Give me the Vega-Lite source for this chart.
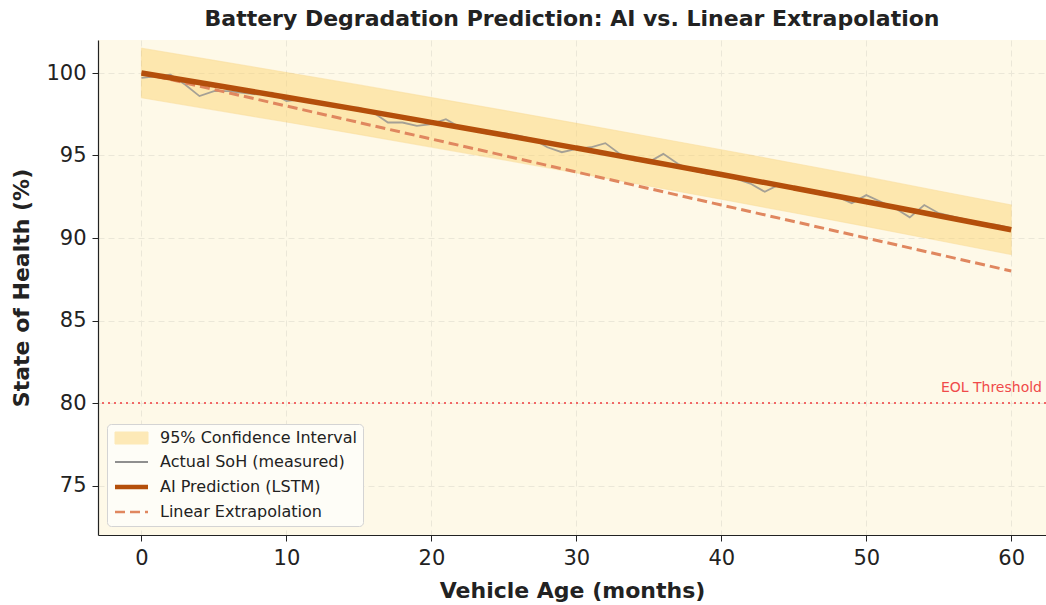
{
  "$schema": "https://vega.github.io/schema/vega-lite/v6.json",
  "autosize": {"type": "none"},
  "width": 948,
  "height": 495,
  "padding": {"left": 98, "top": 40, "right": 0, "bottom": 70},
  "background": "#ffffff",
  "title": {"text": "Battery Degradation Prediction: AI vs. Linear Extrapolation", "font": "DejaVu Sans", "fontSize": 22, "fontWeight": "bold", "color": "#222222", "offset": 9, "anchor": "middle"},
  "config": {
    "font": "DejaVu Sans",
    "view": {"fill": "#fef9e8", "stroke": null},
    "axis": {"labelFont": "DejaVu Sans", "labelFontSize": 21, "labelColor": "#222222", "titleFont": "DejaVu Sans", "titleFontSize": 22, "titleFontWeight": "bold", "titleColor": "#222222", "domainColor": "#222222", "domainWidth": 1.2, "tickColor": "#222222", "tickSize": 6, "gridColor": "#ebe7d8", "gridDash": [6, 4], "gridWidth": 1},
    "legend": {"symbolType": "M-1,-1H4.5V1H-1Z"}
  },
  "datasets": {
    "actual": [
      {"month": 0, "soh": 99.7}, {"month": 1, "soh": 99.8}, {"month": 2, "soh": 99.9}, {"month": 3, "soh": 99.3},
      {"month": 4, "soh": 98.6}, {"month": 5, "soh": 98.9}, {"month": 6, "soh": 98.9}, {"month": 7, "soh": 98.8},
      {"month": 8, "soh": 98.7}, {"month": 9, "soh": 98.8}, {"month": 10, "soh": 98.3}, {"month": 11, "soh": 98.4},
      {"month": 12, "soh": 98.2}, {"month": 13, "soh": 98.1}, {"month": 14, "soh": 97.9}, {"month": 15, "soh": 97.9},
      {"month": 16, "soh": 97.6}, {"month": 17, "soh": 97.0}, {"month": 18, "soh": 97.0}, {"month": 19, "soh": 96.8},
      {"month": 20, "soh": 96.9}, {"month": 21, "soh": 97.2}, {"month": 22, "soh": 96.7}, {"month": 23, "soh": 96.5},
      {"month": 24, "soh": 96.3}, {"month": 25, "soh": 96.35}, {"month": 26, "soh": 96.2}, {"month": 27, "soh": 96.0},
      {"month": 28, "soh": 95.5}, {"month": 29, "soh": 95.2}, {"month": 30, "soh": 95.4}, {"month": 31, "soh": 95.5},
      {"month": 32, "soh": 95.75}, {"month": 33, "soh": 95.1}, {"month": 34, "soh": 94.7}, {"month": 35, "soh": 94.6},
      {"month": 36, "soh": 95.1}, {"month": 37, "soh": 94.5}, {"month": 38, "soh": 94.1}, {"month": 39, "soh": 93.9},
      {"month": 40, "soh": 93.8}, {"month": 41, "soh": 93.6}, {"month": 42, "soh": 93.3}, {"month": 43, "soh": 92.8},
      {"month": 44, "soh": 93.25}, {"month": 45, "soh": 93.0}, {"month": 46, "soh": 92.8}, {"month": 47, "soh": 92.6},
      {"month": 48, "soh": 92.5}, {"month": 49, "soh": 92.1}, {"month": 50, "soh": 92.6}, {"month": 51, "soh": 92.2},
      {"month": 52, "soh": 91.8}, {"month": 53, "soh": 91.25}, {"month": 54, "soh": 92.0}, {"month": 55, "soh": 91.5},
      {"month": 56, "soh": 91.3}, {"month": 57, "soh": 91.1}, {"month": 58, "soh": 90.9}, {"month": 59, "soh": 90.8},
      {"month": 60, "soh": 90.6}
    ],
    "pred": [
      {"month": 0, "ai": 100.0, "lo": 98.5, "hi": 101.5, "lin": 100.0},
      {"month": 5, "ai": 99.27, "lo": 97.77, "hi": 100.77, "lin": 99.0},
      {"month": 10, "ai": 98.53, "lo": 97.03, "hi": 100.03, "lin": 98.0},
      {"month": 15, "ai": 97.78, "lo": 96.28, "hi": 99.28, "lin": 97.0},
      {"month": 20, "ai": 97.01, "lo": 95.51, "hi": 98.51, "lin": 96.0},
      {"month": 25, "ai": 96.24, "lo": 94.74, "hi": 97.74, "lin": 95.0},
      {"month": 30, "ai": 95.45, "lo": 93.95, "hi": 96.95, "lin": 94.0},
      {"month": 35, "ai": 94.65, "lo": 93.15, "hi": 96.15, "lin": 93.0},
      {"month": 40, "ai": 93.85, "lo": 92.35, "hi": 95.35, "lin": 92.0},
      {"month": 45, "ai": 93.03, "lo": 91.53, "hi": 94.53, "lin": 91.0},
      {"month": 50, "ai": 92.2, "lo": 90.7, "hi": 93.7, "lin": 90.0},
      {"month": 55, "ai": 91.35, "lo": 89.85, "hi": 92.85, "lin": 89.0},
      {"month": 60, "ai": 90.5, "lo": 89.0, "hi": 92.0, "lin": 88.0}
    ],
    "eol": [{"threshold": 80, "label": "EOL Threshold"}]
  },
  "encoding": {
    "color": {"type": "nominal",
      "scale": {"domain": ["95% Confidence Interval", "Actual SoH (measured)", "AI Prediction (LSTM)", "Linear Extrapolation"],
                "range": ["#fcd36a", "#8f8f8f", "#b44f0b", "#e0875f"]},
      "legend": {
        "title": null, "orient": "bottom-left", "offset": 9,
        "labelFont": "DejaVu Sans", "labelFontSize": 16, "labelColor": "#222222", "labelLimit": 400,
        "symbolSize": 144, "labelOffset": 31, "rowPadding": 8,
        "padding": 6, "fillColor": "#fefdf7", "strokeColor": "#d4d4d4", "cornerRadius": 4,
        "encode": {
          "symbols": {"update": {
            "shape": {"signal": "datum.value === '95% Confidence Interval' ? 'M-1,-1H4.5V1H-1Z' : 'M-1,0H4.5'"},
            "fill": {"signal": "datum.value === '95% Confidence Interval' ? '#fde7ab' : 'transparent'"},
            "fillOpacity": {"value": 1},
            "opacity": {"signal": "datum.value === '95% Confidence Interval' ? 0.45 : 1"},
            "stroke": {"signal": "datum.value === '95% Confidence Interval' ? '#f9d98a' : datum.value === 'Actual SoH (measured)' ? '#9a9a9a' : datum.value === 'AI Prediction (LSTM)' ? '#b44f0b' : '#e0875f'"},
            "strokeWidth": {"signal": "datum.value === '95% Confidence Interval' ? 1 : datum.value === 'Actual SoH (measured)' ? 1.8 : datum.value === 'AI Prediction (LSTM)' ? 4.5 : 2.5"},
            "strokeDash": {"signal": "datum.value === 'Linear Extrapolation' ? [10, 5] : [1, 0]"}
          }}
        }
      }
    }
  },
  "layer": [
    {
      "data": {"name": "pred"},
      "mark": {"type": "area", "opacity": 0.45, "stroke": "#f6c04a", "strokeWidth": 1.2, "strokeOpacity": 0.6},
      "encoding": {
        "x": {"field": "month", "type": "quantitative", "scale": {"domain": [-3, 62.4], "nice": false, "zero": false},
          "axis": {"title": "Vehicle Age (months)", "values": [0, 10, 20, 30, 40, 50, 60], "grid": true, "labelPadding": 6, "titlePadding": 12}},
        "y": {"field": "lo", "type": "quantitative", "scale": {"domain": [72, 102], "nice": false, "zero": false},
          "axis": {"title": "State of Health (%)", "values": [75, 80, 85, 90, 95, 100], "grid": true, "labelPadding": 6, "titlePadding": 12}},
        "y2": {"field": "hi"},
        "color": {"datum": "95% Confidence Interval"}
      }
    },
    {
      "data": {"name": "actual"},
      "mark": {"type": "line", "strokeWidth": 1.8, "opacity": 0.8},
      "encoding": {
        "x": {"field": "month", "type": "quantitative"},
        "y": {"field": "soh", "type": "quantitative"},
        "color": {"datum": "Actual SoH (measured)"}
      }
    },
    {
      "data": {"name": "pred"},
      "mark": {"type": "line", "strokeWidth": 3, "strokeDash": [10, 5]},
      "encoding": {
        "x": {"field": "month", "type": "quantitative"},
        "y": {"field": "lin", "type": "quantitative"},
        "color": {"datum": "Linear Extrapolation"}
      }
    },
    {
      "data": {"name": "pred"},
      "mark": {"type": "line", "strokeWidth": 5.5, "interpolate": "monotone"},
      "encoding": {
        "x": {"field": "month", "type": "quantitative"},
        "y": {"field": "ai", "type": "quantitative"},
        "color": {"datum": "AI Prediction (LSTM)"}
      }
    },
    {
      "data": {"name": "eol"},
      "mark": {"type": "rule", "strokeWidth": 2, "strokeDash": [2, 4], "opacity": 0.85},
      "encoding": {"y": {"field": "threshold", "type": "quantitative"}, "color": {"value": "#f05050"}}
    },
    {
      "data": {"name": "eol"},
      "mark": {"type": "text", "align": "right", "baseline": "bottom", "dy": -8, "dx": -4, "fontSize": 14, "font": "DejaVu Sans"},
      "encoding": {"x": {"datum": 62.4}, "y": {"field": "threshold", "type": "quantitative"}, "text": {"field": "label"}, "color": {"value": "#f04a4a"}}
    }
  ]
}
